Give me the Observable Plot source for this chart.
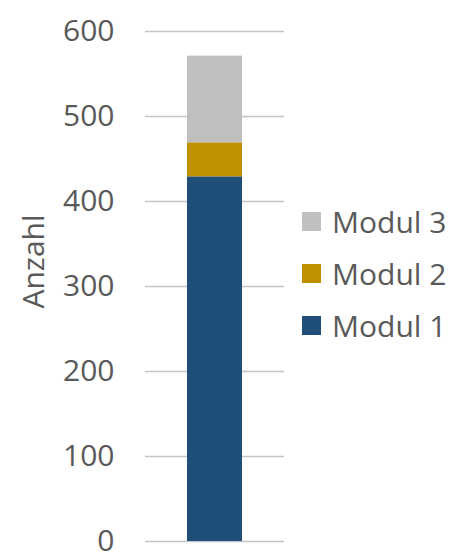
<!DOCTYPE html>
<html>
<head>
<meta charset="utf-8">
<script src="https://cdn.jsdelivr.net/npm/d3@7"></script>
<script src="https://cdn.jsdelivr.net/npm/@observablehq/plot@0.6"></script>
<style>
  html, body { margin: 0; padding: 0; background: #fff; }
  #wrap { position: relative; width: 449px; height: 554px; font-family: "Open Sans", sans-serif; }
  #legend { position: absolute; left: 302px; top: 0; }
  .item { position: absolute; left: 0; display: flex; align-items: center; white-space: nowrap; color: #595959; font-size: 30px; height: 40px; }
  .sw { width: 19px; height: 19px; margin-right: 11px; flex: none; }
</style>
</head>
<body>
<div id="wrap"></div>
<script>
const categories = ["Gesamt"];
const seriesNames = ["Modul 1", "Modul 2", "Modul 3"];
const seriesValues = [429, 40, 102];
const seriesColors = ["#1f4e79", "#bf9000", "#bfbfbf"];
const yTicks = [0, 100, 200, 300, 400, 500, 600];
const yLabel = "Anzahl";

const data = seriesNames.map((s, i) => ({cat: categories[0], series: s, value: seriesValues[i]}));

const chart = Plot.plot({
  width: 449,
  height: 554,
  marginLeft: 145,
  marginRight: 165,
  marginTop: 31,
  marginBottom: 13,
  style: {fontFamily: "'Open Sans', sans-serif", color: "#595959", background: "#fff"},
  x: {domain: categories, padding: 0.4286, axis: null},
  y: {domain: [0, 600], ticks: yTicks, axis: null},
  color: {domain: seriesNames, range: seriesColors},
  marks: [
    Plot.ruleY(yTicks, {stroke: "#c4c4c4", strokeWidth: 1.5}),
    Plot.barY(data, {x: "cat", y: "value", fill: "series", order: seriesNames}),
    Plot.axisY(yTicks, {tickSize: 0, tickPadding: 31, fontSize: 30, fill: "#595959", label: null}),
    Plot.text([yLabel], {frameAnchor: "left", rotate: -90, dx: -111, dy: 22, fontSize: 30, fill: "#595959"})
  ]
});

const wrap = document.getElementById("wrap");
wrap.appendChild(chart);

const legend = document.createElement("div");
legend.id = "legend";
const centers = {"Modul 3": 221, "Modul 2": 273, "Modul 1": 325};
["Modul 3", "Modul 2", "Modul 1"].forEach(name => {
  const i = seriesNames.indexOf(name);
  const item = document.createElement("div");
  item.className = "item";
  item.style.top = (centers[name] - 20) + "px";
  const sw = document.createElement("span");
  sw.className = "sw";
  sw.style.background = seriesColors[i];
  const t = document.createElement("span");
  t.textContent = name;
  item.appendChild(sw);
  item.appendChild(t);
  legend.appendChild(item);
});
wrap.appendChild(legend);
</script>
</body>
</html>
